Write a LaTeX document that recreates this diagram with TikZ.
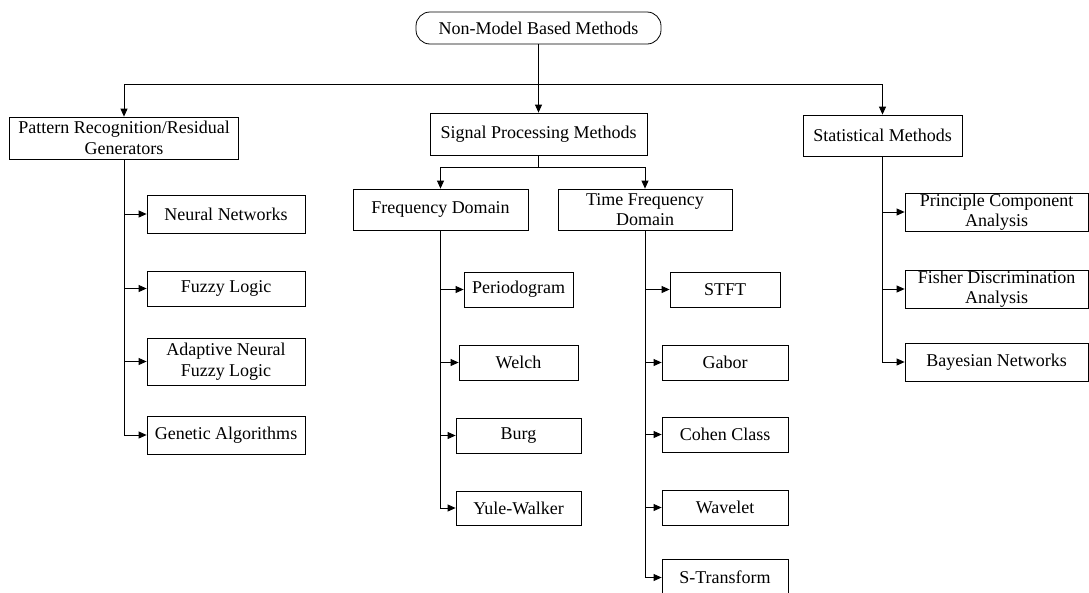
\documentclass[tikz,border=0pt]{standalone}
\usepackage{fontspec}
\setmainfont{Liberation Serif}
\usetikzlibrary{arrows.meta}
\begin{document}
\begin{tikzpicture}[x=1pt,y=-1pt,
  box/.style={draw, line width=0.8pt, inner sep=0pt, align=center,
    font=\fontsize{18}{20.5}\selectfont},
  arr/.style={line width=0.8pt, -{Triangle[length=8pt,width=7pt]}},
  ln/.style={line width=0.8pt}]
\useasboundingbox (0,0) rectangle (1089,592);
% level 0
\node[box, rounded corners=14pt, minimum width=245pt, minimum height=32pt] (top) at (538.5,28) {Non-Model Based Methods};
% level 1
\node[box, minimum width=229pt, minimum height=42pt] (pat) at (124,138) {Pattern Recognition/Residual\\Generators};
\node[box, minimum width=217pt, minimum height=42pt] (sig) at (538.5,134) {Signal Processing Methods};
\node[box, minimum width=159pt, minimum height=41pt] (stat) at (882.5,135.5) {Statistical Methods};
% level 2
\node[box, minimum width=175pt, minimum height=41pt] (freq) at (440.5,209.5) {Frequency Domain};
\node[box, minimum width=174pt, minimum height=41pt] (tfd) at (645,209.5) {Time Frequency\\Domain};
% pattern children
\node[box, minimum width=158pt, minimum height=38pt] (nn) at (226,214) {Neural Networks};
\node[box, minimum width=158pt, minimum height=35pt] (fl) at (226,288.5) {Fuzzy Logic};
\node[box, minimum width=158pt, minimum height=47pt] (anfl) at (226,361.5) {Adaptive Neural\\Fuzzy Logic};
\node[box, minimum width=158pt, minimum height=38pt] (ga) at (226,435) {Genetic Algorithms};
% frequency children
\node[box, minimum width=109pt, minimum height=35pt] (per) at (518.5,289.5) {Periodogram};
\node[box, minimum width=119pt, minimum height=35pt] (welch) at (518.5,362.5) {Welch};
\node[box, minimum width=125pt, minimum height=35pt] (burg) at (518.5,435.5) {Burg};
\node[box, minimum width=125pt, minimum height=34pt] (yw) at (518.5,508) {Yule-Walker};
% time-frequency children
\node[box, minimum width=110pt, minimum height=35pt] (stft) at (725,289.5) {STFT};
\node[box, minimum width=126pt, minimum height=35pt] (gabor) at (725,362.5) {Gabor};
\node[box, minimum width=126pt, minimum height=35pt] (cohen) at (725,434.5) {Cohen Class};
\node[box, minimum width=126pt, minimum height=35pt] (wave) at (725,507.5) {Wavelet};
\node[box, minimum width=126pt, minimum height=37pt] (st) at (725,577.5) {S-Transform};
% statistical children
\node[box, minimum width=183pt, minimum height=38pt] (pca) at (996.5,212) {Principle Component\\Analysis};
\node[box, minimum width=183pt, minimum height=38pt] (fda) at (996.5,289) {Fisher Discrimination\\Analysis};
\node[box, minimum width=183pt, minimum height=38pt] (bn) at (996.5,362) {Bayesian Networks};
% connectors level 0 -> 1
\coordinate (bus) at (538.5,84);
\draw[arr] (top.south) -- (sig.north);
\draw[arr] (bus) -| (pat.north);
\draw[arr] (bus) -| (stat.north);
% signal -> domains
\coordinate (sbus) at (538.5,167);
\draw[ln] (sig.south) -- (sbus);
\draw[arr] (sbus) -| (freq.north);
\draw[arr] (sbus) -| (tfd.north);
% children
\foreach \c in {nn,fl,anfl,ga} \draw[arr] (pat.south) |- (\c.west);
\foreach \c in {per,welch,burg,yw} \draw[arr] (freq.south) |- (\c.west);
\foreach \c in {stft,gabor,cohen,wave,st} \draw[arr] (tfd.south) |- (\c.west);
\foreach \c in {pca,fda,bn} \draw[arr] (stat.south) |- (\c.west);
\end{tikzpicture}
\end{document}
